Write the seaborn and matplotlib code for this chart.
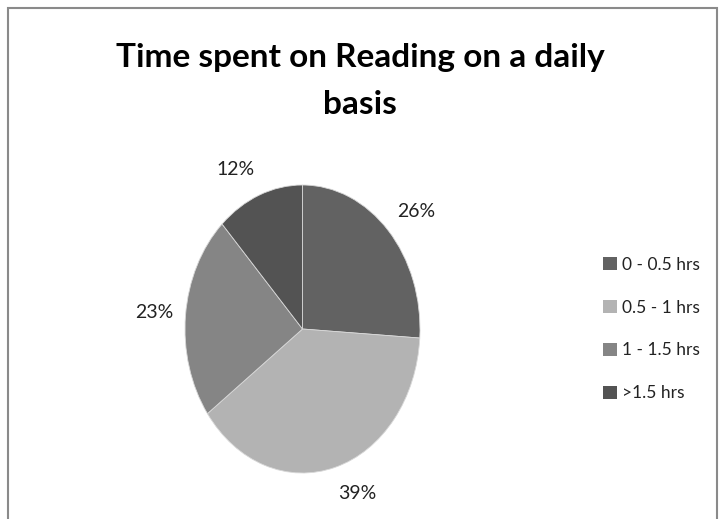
import matplotlib
matplotlib.use("Agg")
import numpy as np
import matplotlib.pyplot as plt
import seaborn as sns
from matplotlib.patches import Rectangle, Patch

categories = ["0 - 0.5 hrs", "0.5 - 1 hrs", "1 - 1.5 hrs", ">1.5 hrs"]
values = [26, 39, 23, 12]
colors = ["#626262", "#b3b3b3", "#858585", "#535353"]
title_lines = ["Time spent on Reading on a daily", "basis"]

sns.set_theme(style="white")
plt.rcParams["font.family"] = ["Lato", "DejaVu Sans"]

W, H = 720, 519
fig = plt.figure(figsize=(W / 100, H / 100), dpi=100)

# pie axes (elliptical pie like the reference)
left, right, top, bottom = 185, 420, 185, 473
ax = fig.add_axes([left / W, (H - bottom) / H, (right - left) / W, (bottom - top) / H])
wedges, texts, autotexts = ax.pie(
    values, colors=colors, startangle=90, counterclock=False,
    autopct=lambda p: f"{p:.0f}%", pctdistance=1.19,
    wedgeprops=dict(edgecolor="#d8d8d8", linewidth=0.6),
    textprops=dict(fontsize=14, color="#222222"),
)
ax.set_aspect("auto")
ax.set_xlim(-1, 1)
ax.set_ylim(-1, 1)
ax.axis("off")
for w, t in zip(wedges, autotexts):
    ang = np.deg2rad((w.theta1 + w.theta2) / 2)
    x, y = np.cos(ang), np.sin(ang)
    t.set_position((1.1 * x, 1.19 * y))
    t.set_ha("left" if x > 0 else "right")
    t.set_va("center")
    t.set_clip_on(False)

for yy, line in zip([57, 104], title_lines):
    fig.text(0.5, 1 - yy / H, line, ha="center", va="center",
             fontsize=24, fontweight="bold", color="#000000")

handles = [Patch(facecolor=c, edgecolor="none") for c in colors]
fig.legend(handles, categories, loc="center left",
           bbox_to_anchor=(603 / W, 1 - 329 / H), frameon=False, borderpad=0,
           borderaxespad=0, fontsize=12.5, labelspacing=1.55, handlelength=0.8,
           handleheight=0.8, handletextpad=0.3, labelcolor="#222222")

# outer chart border
fig.add_artist(Rectangle((8 / W, -0.05), (717 - 8) / W, 1.05 - 8 / H,
                         transform=fig.transFigure, fill=False,
                         edgecolor="#8a8a8a", linewidth=1.5))

fig.savefig("out.png", dpi=100)
